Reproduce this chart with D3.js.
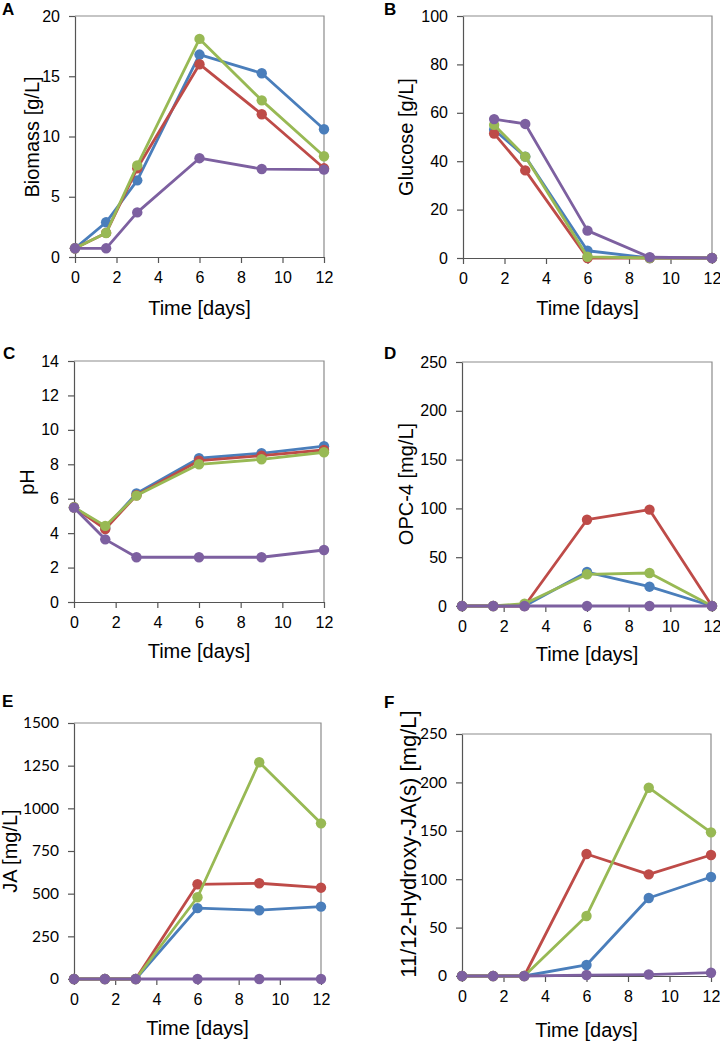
<!DOCTYPE html>
<html><head><meta charset="utf-8">
<script src="https://cdn.jsdelivr.net/npm/d3@7"></script>
<style>body{margin:0;background:#fff} svg{display:block}</style>
</head><body>
<svg id="chart" width="720" height="1042"></svg>
<script>
// ---------- DATA ----------
const seriesColors = ["#4A7EBB", "#BE4B48", "#98B954", "#7D60A0"];
const timeDays = [0, 1.5, 3, 6, 9, 12];
const glucoseTimeDays = [1.5, 3, 6, 9, 12];
const xTickValues = [0, 2, 4, 6, 8, 10, 12];

const biomassValues = [
  [0.72, 2.88, 6.36, 16.8, 15.25, 10.6],
  [0.72, 2.0, 7.36, 16.0, 11.85, 7.36],
  [0.72, 1.99, 7.6, 18.1, 13.0, 8.36],
  [0.72, 0.72, 3.7, 8.2, 7.3, 7.25]
];
const glucoseValues = [
  [53.0, 41.9, 3.0, 0, 0],
  [51.4, 36.2, 0, 0, 0],
  [55.0, 41.9, 0.5, 0, 0],
  [57.4, 55.4, 11.3, 0.3, 0]
];
const phValues = [
  [5.5, 4.3, 6.31, 8.35, 8.64, 9.05],
  [5.5, 4.24, 6.2, 8.21, 8.5, 8.83],
  [5.5, 4.42, 6.18, 8.0, 8.29, 8.7],
  [5.48, 3.64, 2.6, 2.6, 2.6, 3.02]
];
const opc4Values = [
  [0, 0, 0, 34.8, 19.8, 0],
  [0, 0, 0, 88.4, 98.7, 0],
  [0, 0, 2.4, 32.5, 33.8, 0],
  [0, 0, 0, 0, 0, 0]
];
const jaValues = [
  [0, 0, 0, 415, 403, 424],
  [0, 0, 0, 555, 561, 535],
  [0, 0, 0, 479, 1270, 912],
  [0, 0, 0, 0, 0, 0]
];
const hydroxyJaValues = [
  [0, 0, 0, 11.4, 80.6, 102.3],
  [0, 0, 0, 126, 105, 125],
  [0, 0, 0, 62, 194.5, 148.4],
  [0, 0, 0, 1, 1.5, 3.4]
];

const biomassTicks = [0, 5, 10, 15, 20];
const glucoseTicks = [0, 20, 40, 60, 80, 100];
const phTicks = [0, 2, 4, 6, 8, 10, 12, 14];
const opc4Ticks = [0, 50, 100, 150, 200, 250];
const jaTicks = [0, 250, 500, 750, 1000, 1250, 1500];
const hydroxyJaTicks = [0, 50, 100, 150, 200, 250];

const panelLetters = ["A", "B", "C", "D", "E", "F"];
const yTitles = ["Biomass [g/L]", "Glucose [g/L]", "pH", "OPC-4 [mg/L]", "JA [mg/L]", "11/12-Hydroxy-JA(s) [mg/L]"];
const xTitle = "Time [days]";

// ---------- LAYOUT ----------
const ARIAL = "'Liberation Sans', Arial, sans-serif";
const CALI = "Lato, 'Open Sans', sans-serif";
const panels = [
  {letter: 0, t: timeDays, vals: biomassValues, ticks: biomassTicks, x0: 75, x1: 324, top: 16, bot: 257,
   lx: 2, ly: 15, ytx: 32, yty: 137, xtb: 315, yFont: ARIAL, yTitleSize: 20},
  {letter: 1, t: glucoseTimeDays, vals: glucoseValues, ticks: glucoseTicks, x0: 463, x1: 712, top: 16, bot: 258,
   lx: 384, ly: 15, ytx: 406, yty: 137, xtb: 315, yFont: ARIAL, yTitleSize: 20},
  {letter: 2, t: timeDays, vals: phValues, ticks: phTicks, x0: 74, x1: 324, top: 361, bot: 602,
   lx: 3, ly: 359, ytx: 27, yty: 482, xtb: 658, yFont: ARIAL, yTitleSize: 20},
  {letter: 3, t: timeDays, vals: opc4Values, ticks: opc4Ticks, x0: 462, x1: 712, top: 362, bot: 606,
   lx: 384, ly: 359, ytx: 406, yty: 484, xtb: 661, yFont: ARIAL, yTitleSize: 20},
  {letter: 4, t: timeDays, vals: jaValues, ticks: jaTicks, x0: 74, x1: 321, top: 723, bot: 979,
   lx: 2, ly: 707, ytx: 10, yty: 851, xtb: 1035, yFont: CALI, yTitleSize: 20},
  {letter: 5, t: timeDays, vals: hydroxyJaValues, ticks: hydroxyJaTicks, x0: 462, x1: 711, top: 734, bot: 976,
   lx: 384, ly: 708, ytx: 408, yty: 844, xtb: 1037, yFont: CALI, yTitleSize: 22}
];

const svg = d3.select("#chart");
svg.append("rect").attr("width", 720).attr("height", 1042).attr("fill", "#fff");

panels.forEach(p => {
  const g = svg.append("g");
  const x = d3.scaleLinear().domain([0, 12]).range([p.x0, p.x1]);
  const y = d3.scaleLinear().domain([0, d3.max(p.ticks)]).range([p.bot, p.top]);

  // frame (top & right)
  g.append("path")
    .attr("d", `M${p.x0},${p.top}H${p.x1}V${p.bot}`)
    .attr("fill", "none").attr("stroke", "#8c8c8c").attr("stroke-width", 1.2);

  // axes
  const ax = g.append("g").attr("transform", `translate(0,${p.bot})`)
    .call(d3.axisBottom(x).tickValues(xTickValues).tickFormat(d3.format("d")).tickSize(6).tickSizeOuter(0).tickPadding(9));
  ax.selectAll("text").attr("font-family", ARIAL).attr("font-size", 16).attr("fill", "#000");
  const ay = g.append("g").attr("transform", `translate(${p.x0},0)`)
    .call(d3.axisLeft(y).tickValues(p.ticks).tickFormat(d3.format("d")).tickSize(6).tickSizeOuter(0).tickPadding(9));
  ay.selectAll("text").attr("font-family", p.yFont).attr("font-size", p.yFont === ARIAL ? 16 : 15.5).attr("fill", "#000");
  [ax, ay].forEach(a => {
    a.select(".domain").attr("stroke", "#555").attr("stroke-width", 1.2);
    a.selectAll(".tick line").attr("stroke", "#555").attr("stroke-width", 1.2);
  });

  // series
  const line = d3.line().x((d, i) => x(p.t[i])).y(d => y(d));
  p.vals.forEach((vals, si) => {
    g.append("path").datum(vals).attr("d", line)
      .attr("fill", "none").attr("stroke", seriesColors[si]).attr("stroke-width", 2.8)
      .attr("stroke-linejoin", "round");
    g.selectAll(null).data(vals).enter().append("circle")
      .attr("cx", (d, i) => x(p.t[i])).attr("cy", d => y(d)).attr("r", 5.2)
      .attr("fill", seriesColors[si]);
  });

  // titles
  g.append("text").attr("x", (p.x0 + p.x1) / 2).attr("y", p.xtb)
    .attr("text-anchor", "middle").attr("font-family", ARIAL).attr("font-size", 20).text(xTitle);
  g.append("text").attr("transform", `translate(${p.ytx},${p.yty}) rotate(-90)`)
    .attr("text-anchor", "middle").attr("dominant-baseline", "central")
    .attr("font-family", ARIAL).attr("font-size", p.yTitleSize).text(yTitles[p.letter]);
  g.append("text").attr("x", p.lx).attr("y", p.ly)
    .attr("font-family", ARIAL).attr("font-weight", "bold").attr("font-size", 17).text(panelLetters[p.letter]);
});
</script>
</body></html>
